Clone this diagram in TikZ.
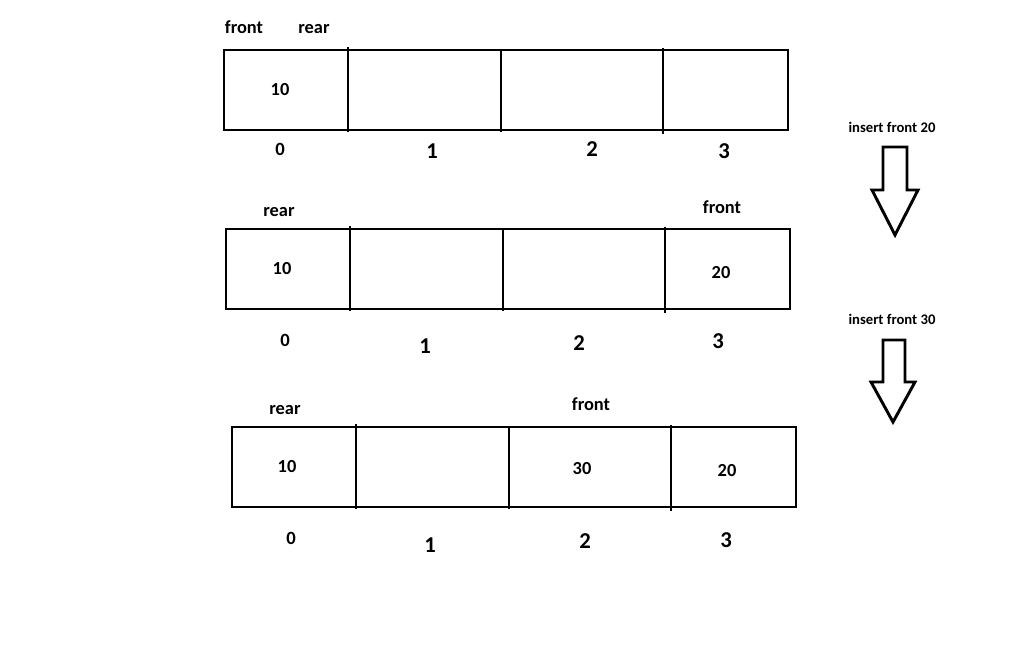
\documentclass[tikz,border=0pt]{standalone}
\usepackage{fontspec}
\setmainfont{Carlito}
\begin{document}
\begin{tikzpicture}[x=0.75pt,y=-0.75pt,
  cellline/.style={line width=2pt},
  lbl/.style={font=\fontsize{13.8}{15}\selectfont\bfseries, inner sep=0pt, text height=0.68em, text depth=0.2em, yshift=-2pt},
  val/.style={font=\fontsize{13.8}{15}\selectfont\bfseries, inner sep=0pt},
  idx/.style={font=\fontsize{17}{17}\selectfont\bfseries, inner sep=0pt},
  idxsmall/.style={font=\fontsize{14}{14}\selectfont\bfseries, inner sep=0pt},
  captionlbl/.style={font=\fontsize{11}{12}\selectfont\bfseries, inner sep=0pt},
  bigarrow/.style={line width=2.2pt, line join=miter}]
\useasboundingbox (0,0) rectangle (1034,668);
\fill[white] (0,0) rectangle (1034,668);

% ---------- Row 1 ----------
\draw[cellline] (224,50) rectangle (788,130);
\draw[cellline] (348,47) -- (348,132);
\draw[cellline] (501,50) -- (501,132);
\draw[cellline] (663,48) -- (663,134);
\node[lbl] (f1) at (244,28) {front};
\node[lbl] (r1) at (314,28) {rear};
\node[val] (v1a) at (280,90) {10};
\node[idxsmall] (i1a) at (280,149) {0};
\node[idx] (i1b) at (432,151) {1};
\node[idx] (i1c) at (592,149) {2};
\node[idx] (i1d) at (724,151) {3};

% ---------- Row 2 ----------
\draw[cellline] (226,229) rectangle (790,309);
\draw[cellline] (350,226) -- (350,311);
\draw[cellline] (503,229) -- (503,311);
\draw[cellline] (665,227) -- (665,313);
\node[lbl] (r2) at (279,211) {rear};
\node[lbl] (f2) at (722,208) {front};
\node[val] (v2a) at (282,269) {10};
\node[val] (v2d) at (721,273) {20};
\node[idxsmall] (i2a) at (285,340) {0};
\node[idx] (i2b) at (425,346) {1};
\node[idx] (i2c) at (579,343) {2};
\node[idx] (i2d) at (718,341) {3};

% ---------- Row 3 ----------
\draw[cellline] (232,427) rectangle (796,507);
\draw[cellline] (356,424) -- (356,509);
\draw[cellline] (509,427) -- (509,509);
\draw[cellline] (671,425) -- (671,511);
\node[lbl] (r3) at (285,409) {rear};
\node[lbl] (f3) at (591,405) {front};
\node[val] (v3a) at (287,467) {10};
\node[val] (v3c) at (582,469) {30};
\node[val] (v3d) at (727,471) {20};
\node[idxsmall] (i3a) at (291,538) {0};
\node[idx] (i3b) at (430,545) {1};
\node[idx] (i3c) at (585,541) {2};
\node[idx] (i3d) at (726,540) {3};

% ---------- Arrows ----------
\node[captionlbl] (c1) at (892,127) {insert front 20};
\draw[bigarrow] (883,147) -- (907,147) -- (907,190) -- (918,190) -- (895,235)
  -- (872,190) -- (883,190) -- cycle;
\node[captionlbl] (c2) at (892,319) {insert front 30};
\draw[bigarrow] (883,340) -- (905,340) -- (905,382) -- (915,382) -- (893,422)
  -- (871,382) -- (883,382) -- cycle;
\end{tikzpicture}
\end{document}
